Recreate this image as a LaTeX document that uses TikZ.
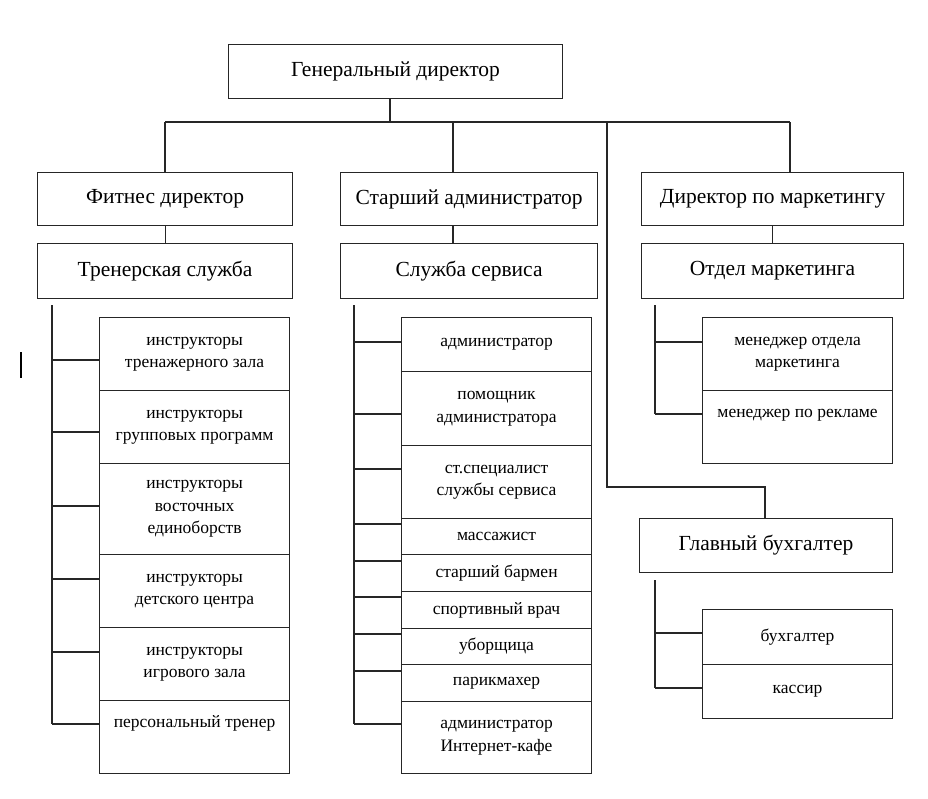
\documentclass[tikz,border=0pt]{standalone}
\usepackage{fontspec}
\setmainfont{Liberation Serif}
\begin{document}
\begin{tikzpicture}[x=1pt,y=-1pt,
  ln/.style={line width=1.1pt, draw=black!85},
  box/.style={draw=black!85, line width=1.1pt, anchor=north west, inner sep=0pt, align=center},
  big/.style={font=\fontsize{21.5}{25}\selectfont},
  sm/.style={font=\fontsize{17.5}{22.5}\selectfont},
  toptext/.style={text height=13pt, text depth=33pt}]
\useasboundingbox[fill=white] (0,0) rectangle (928,798);

% top levels
\node[box, big, minimum width=334pt, minimum height=54pt] (gd) at (228,44) {Генеральный директор};
\node[box, big, minimum width=255pt, minimum height=53pt] (fd) at (37,172) {Фитнес директор};
\node[box, big, minimum width=257pt, minimum height=53pt] (sa) at (340,172) {Старший администратор};
\node[box, big, minimum width=262pt, minimum height=53pt] (dm) at (641,172) {Директор по маркетингу};
\node[box, big, minimum width=255pt, minimum height=55pt] (ts) at (37,243) {Тренерская служба};
\node[box, big, minimum width=257pt, minimum height=55pt] (ss) at (340,243) {Служба сервиса};
\node[box, big, minimum width=262pt, minimum height=55pt] (om) at (641,243) {Отдел маркетинга};
\node[box, big, minimum width=253pt, minimum height=54pt] (gb) at (639,518) {Главный бухгалтер};

% left column
\node[box, sm, minimum width=190pt, minimum height=73pt] (l1) at (99,317) {инструкторы\\тренажерного зала};
\node[box, sm, minimum width=190pt, minimum height=73pt] (l2) at (99,390) {инструкторы\\групповых программ};
\node[box, sm, minimum width=190pt, minimum height=91pt] (l3) at (99,463) {инструкторы\\восточных\\единоборств};
\node[box, sm, minimum width=190pt, minimum height=73pt] (l4) at (99,554) {инструкторы\\детского центра};
\node[box, sm, minimum width=190pt, minimum height=73pt] (l5) at (99,627) {инструкторы\\игрового зала};
\node[box, sm, toptext, minimum width=190pt, minimum height=73pt] (l6) at (99,700) {персональный тренер};

% middle column
\node[box, sm, minimum width=190pt, minimum height=54pt] (m1) at (401,317) {администратор};
\node[box, sm, minimum width=190pt, minimum height=74pt] (m2) at (401,371) {помощник\\администратора};
\node[box, sm, minimum width=190pt, minimum height=73pt] (m3) at (401,445) {ст.специалист\\службы сервиса};
\node[box, sm, minimum width=190pt, minimum height=36pt] (m4) at (401,518) {массажист};
\node[box, sm, minimum width=190pt, minimum height=37pt] (m5) at (401,554) {старший бармен};
\node[box, sm, minimum width=190pt, minimum height=37pt] (m6) at (401,591) {спортивный врач};
\node[box, sm, minimum width=190pt, minimum height=36pt] (m7) at (401,628) {уборщица};
\node[box, sm, minimum width=190pt, minimum height=37pt] (m8) at (401,664) {парикмахер};
\node[box, sm, minimum width=190pt, minimum height=72pt] (m9) at (401,701) {администратор\\Интернет-кафе};

% right column
\node[box, sm, minimum width=190pt, minimum height=73pt] (r1) at (702,317) {менеджер отдела\\маркетинга};
\node[box, sm, toptext, minimum width=190pt, minimum height=73pt] (r2) at (702,390) {менеджер по рекламе};
\node[box, sm, minimum width=190pt, minimum height=55pt] (a1) at (702,609) {бухгалтер};
\node[box, sm, minimum width=190pt, minimum height=54pt] (a2) at (702,664) {кассир};

% main bar
\coordinate (stem) at (390,122);
\coordinate (barL) at (165,122);
\coordinate (barR) at (790,122);
\coordinate (xsa) at (453,122);
\coordinate (xl) at (607,122);
\coordinate (xlb) at (607,487);
\coordinate (xlc) at (765,487);
\draw[ln] (gd.south -| stem) -- (stem);
\draw[ln] (barL) -- (barR);
\draw[ln] (barL) -- (fd.north -| barL);
\draw[ln] (xsa) -- (sa.north -| xsa);
\draw[ln] (barR) -- (dm.north -| barR);
\draw[ln] (xl) -- (xlb) -- (xlc) -- (gb.north -| xlc);

% level 2 -> 3
\draw[ln] (fd.south) -- (ts.north);
\draw[ln] (sa.south -| xsa) -- (ss.north -| xsa);
\draw[ln] (dm.south) -- (om.north);

% left spine
\coordinate (ls) at (52,305);
\draw[ln] (ls) -- (52,724);
\foreach \n/\y in {l1/360,l2/432,l3/506,l4/579,l5/652,l6/724}
  \draw[ln] (52,\y) -- (\n.west |- 0,\y);

% middle spine
\coordinate (ms) at (354,305);
\draw[ln] (ms) -- (354,724);
\foreach \n/\y in {m1/342,m2/414,m3/469,m4/524,m5/561,m6/597,m7/634,m8/671,m9/724}
  \draw[ln] (354,\y) -- (\n.west |- 0,\y);

% marketing spine
\coordinate (rs) at (655,305);
\draw[ln] (rs) -- (655,414);
\foreach \n/\y in {r1/342,r2/414}
  \draw[ln] (655,\y) -- (\n.west |- 0,\y);

% accounting spine
\coordinate (as) at (655,580);
\draw[ln] (as) -- (655,688);
\foreach \n/\y in {a1/633,a2/688}
  \draw[ln] (655,\y) -- (\n.west |- 0,\y);

% stray mark
\draw[line width=2.5pt] (21,352) -- (21,378);
\end{tikzpicture}
\end{document}
